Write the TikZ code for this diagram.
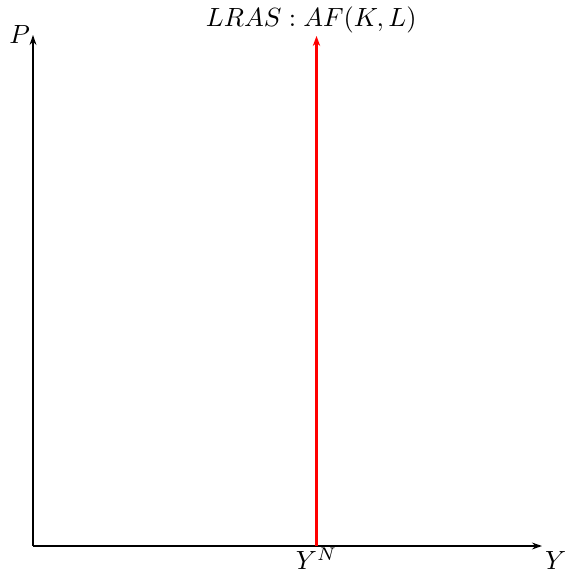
\documentclass[tikz,border=0pt]{standalone}
\usetikzlibrary{arrows.meta}
\begin{document}
\begin{tikzpicture}[x=0.38pt,y=-0.38pt,
  axis/.style={line width=0.75pt,-{Stealth[length=3.8pt,width=2.6pt]}},
  lras/.style={line width=1.2pt,red,-{Stealth[length=3.8pt,width=2.8pt]}},
  lbl/.style={inner sep=1pt}]
\useasboundingbox (0,0) rectangle (564,569);
\coordinate (O) at (33,546);
\coordinate (Ptop) at (33,35);
\coordinate (Yend) at (542,546);
\coordinate (Nb) at (316.5,546);
\coordinate (Nt) at (316.5,36);
\draw[axis] (O) -- (Ptop);
\draw[axis] (O) -- (Yend);
\draw[lras] (Nb) -- (Nt);
\node[lbl,anchor=east] (P) at (Ptop) {$P$};
\node[lbl,anchor=north west] (Y) at ([yshift=-1pt]Yend) {$Y$};
\node[lbl,anchor=north,inner sep=0.5pt] (YN) at (Nb) {$Y^N$};
\node[lbl,anchor=south] (L) at ([xshift=-2pt]Nt) {$LRAS:AF(K,L)$};
\end{tikzpicture}
\end{document}
